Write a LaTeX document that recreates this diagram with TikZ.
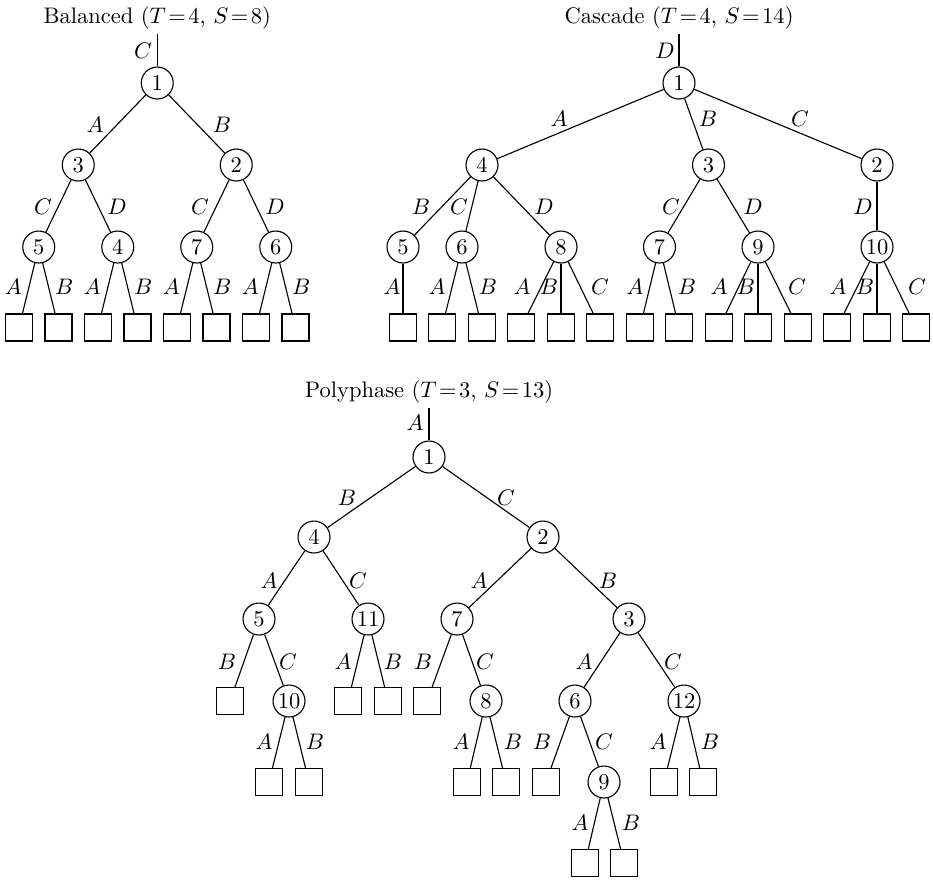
\documentclass[tikz,border=0pt]{standalone}
\begin{document}
\begin{tikzpicture}[x=0.4444pt,y=-0.4444pt,
  cnode/.style={circle,draw,line width=0.5pt,minimum size=14.2pt,inner sep=0pt},
  leaf/.style={rectangle,draw,line width=0.5pt,minimum size=12pt,inner sep=0pt},
  lbl/.style={inner sep=0pt},
  ttl/.style={inner sep=0pt},
  edge/.style={line width=0.5pt}]
\useasboundingbox (0,0) rectangle (933,879);

% ---------------- Balanced ----------------
\node[ttl] (bt) at (157.25,18) {Balanced ($T\!=\!4$, $S\!=\!8$)};
\coordinate (btop) at (157.25,34);
\node[cnode] (b1) at (157.25,83) {1};
\node[cnode] (b3) at (78.25,165) {3};
\node[cnode] (b2) at (236.25,165) {2};
\node[cnode] (b5) at (38.75,247) {5};
\node[cnode] (b4) at (117.75,247) {4};
\node[cnode] (b7) at (196.75,247) {7};
\node[cnode] (b6) at (275.75,247) {6};
\node[leaf] (bl1) at (19,327.5) {};
\node[leaf] (bl2) at (58.5,327.5) {};
\node[leaf] (bl3) at (98,327.5) {};
\node[leaf] (bl4) at (137.5,327.5) {};
\node[leaf] (bl5) at (177,327.5) {};
\node[leaf] (bl6) at (216.5,327.5) {};
\node[leaf] (bl7) at (256,327.5) {};
\node[leaf] (bl8) at (295.5,327.5) {};
\draw[edge] (btop) -- (b1);
\draw[edge] (b1) -- (b3); \draw[edge] (b1) -- (b2);
\draw[edge] (b3) -- (b5); \draw[edge] (b3) -- (b4);
\draw[edge] (b2) -- (b7); \draw[edge] (b2) -- (b6);
\draw[edge] (b5) -- (bl1); \draw[edge] (b5) -- (bl2);
\draw[edge] (b4) -- (bl3); \draw[edge] (b4) -- (bl4);
\draw[edge] (b7) -- (bl5); \draw[edge] (b7) -- (bl6);
\draw[edge] (b6) -- (bl7); \draw[edge] (b6) -- (bl8);
\node[lbl] (bla) at (143,51) {$C$};
\node[lbl] (blb) at (95,125) {$A$};
\node[lbl] (blc) at (222,125) {$B$};
\node[lbl] (bld) at (43,207) {$C$};
\node[lbl] (ble) at (117,207) {$D$};
\node[lbl] (blf) at (200,207) {$C$};
\node[lbl] (blg) at (275,207) {$D$};
\node[lbl] (blh) at (13.25,287) {$A$};
\node[lbl] (bli) at (64.25,287) {$B$};
\node[lbl] (blj) at (92.25,287) {$A$};
\node[lbl] (blk) at (143.25,287) {$B$};
\node[lbl] (bll) at (171.25,287) {$A$};
\node[lbl] (blm) at (222.25,287) {$B$};
\node[lbl] (bln) at (250.25,287) {$A$};
\node[lbl] (blo) at (301.25,287) {$B$};

% ---------------- Cascade ----------------
\node[ttl] (ct) at (679,18) {Cascade ($T\!=\!4$, $S\!=\!14$)};
\coordinate (ctop) at (679,34);
\node[cnode] (c1) at (679,83) {1};
\node[cnode] (c4) at (482,165) {4};
\node[cnode] (c3) at (708.5,165) {3};
\node[cnode] (c2) at (877,165) {2};
\node[cnode] (c5) at (403,247) {5};
\node[cnode] (c6) at (462,247) {6};
\node[cnode] (c8) at (561,247) {8};
\node[cnode] (c7) at (659.5,247) {7};
\node[cnode] (c9) at (758,247) {9};
\node[cnode] (c10) at (877,247) {10};
\node[leaf] (cl1) at (403,327.5) {};
\node[leaf] (cl2) at (442,327.5) {};
\node[leaf] (cl3) at (482,327.5) {};
\node[leaf] (cl4) at (521,327.5) {};
\node[leaf] (cl5) at (561,327.5) {};
\node[leaf] (cl6) at (600,327.5) {};
\node[leaf] (cl7) at (640,327.5) {};
\node[leaf] (cl8) at (679,327.5) {};
\node[leaf] (cl9) at (719,327.5) {};
\node[leaf] (cl10) at (758,327.5) {};
\node[leaf] (cl11) at (798,327.5) {};
\node[leaf] (cl12) at (837,327.5) {};
\node[leaf] (cl13) at (877,327.5) {};
\node[leaf] (cl14) at (916,327.5) {};
\draw[edge] (ctop) -- (c1);
\draw[edge] (c1) -- (c4); \draw[edge] (c1) -- (c3); \draw[edge] (c1) -- (c2);
\draw[edge] (c4) -- (c5); \draw[edge] (c4) -- (c6); \draw[edge] (c4) -- (c8);
\draw[edge] (c3) -- (c7); \draw[edge] (c3) -- (c9);
\draw[edge] (c2) -- (c10);
\draw[edge] (c5) -- (cl1);
\draw[edge] (c6) -- (cl2); \draw[edge] (c6) -- (cl3);
\draw[edge] (c8) -- (cl4); \draw[edge] (c8) -- (cl5); \draw[edge] (c8) -- (cl6);
\draw[edge] (c7) -- (cl7); \draw[edge] (c7) -- (cl8);
\draw[edge] (c9) -- (cl9); \draw[edge] (c9) -- (cl10); \draw[edge] (c9) -- (cl11);
\draw[edge] (c10) -- (cl12); \draw[edge] (c10) -- (cl13); \draw[edge] (c10) -- (cl14);
\node[lbl] (cla) at (665,51) {$D$};
\node[lbl] (clb) at (559,119) {$A$};
\node[lbl] (clc) at (708,119) {$B$};
\node[lbl] (cld) at (800,119) {$C$};
\node[lbl] (cle) at (421,207) {$B$};
\node[lbl] (clf) at (459,207) {$C$};
\node[lbl] (clg) at (544,207) {$D$};
\node[lbl] (clh) at (671,207) {$C$};
\node[lbl] (cli) at (753,207) {$D$};
\node[lbl] (clj) at (863,207) {$D$};
\node[lbl] (clk) at (392,287) {$A$};
\node[lbl] (cll) at (437,287) {$A$};
\node[lbl] (clm) at (488,287) {$B$};
\node[lbl] (cln) at (522,287) {$A$};
\node[lbl] (clo) at (549,287) {$B$};
\node[lbl] (clp) at (600,287) {$C$};
\node[lbl] (clq) at (635,287) {$A$};
\node[lbl] (clr) at (687,287) {$B$};
\node[lbl] (cls) at (719,287) {$A$};
\node[lbl] (clt) at (746,287) {$B$};
\node[lbl] (clu) at (797,287) {$C$};
\node[lbl] (clv) at (838,287) {$A$};
\node[lbl] (clw) at (865,287) {$B$};
\node[lbl] (clx) at (917,287) {$C$};

% ---------------- Polyphase ----------------
\node[ttl] (pt) at (429,392) {Polyphase ($T\!=\!3$, $S\!=\!13$)};
\coordinate (ptop) at (429,408);
\node[cnode] (p1) at (429,457) {1};
\node[cnode] (p4) at (314,537) {4};
\node[cnode] (p2) at (543,537) {2};
\node[cnode] (p5) at (259,619) {5};
\node[cnode] (p11) at (368,619) {11};
\node[cnode] (p7) at (457,619) {7};
\node[cnode] (p3) at (629,619) {3};
\node[leaf] (pl1) at (230,701) {};
\node[cnode] (p10) at (289,701) {10};
\node[leaf] (pl2) at (348,701) {};
\node[leaf] (pl3) at (388,701) {};
\node[leaf] (pl4) at (427,701) {};
\node[cnode] (p8) at (486,701) {8};
\node[cnode] (p6) at (575,701) {6};
\node[cnode] (p12) at (684,701) {12};
\node[leaf] (pl5) at (269,782) {};
\node[leaf] (pl6) at (309,782) {};
\node[leaf] (pl7) at (467,782) {};
\node[leaf] (pl8) at (506,782) {};
\node[leaf] (pl9) at (546,782) {};
\node[cnode] (p9) at (604,782) {9};
\node[leaf] (pl10) at (664,782) {};
\node[leaf] (pl11) at (703,782) {};
\node[leaf] (pl12) at (585,863) {};
\node[leaf] (pl13) at (624,863) {};
\draw[edge] (ptop) -- (p1);
\draw[edge] (p1) -- (p4); \draw[edge] (p1) -- (p2);
\draw[edge] (p4) -- (p5); \draw[edge] (p4) -- (p11);
\draw[edge] (p2) -- (p7); \draw[edge] (p2) -- (p3);
\draw[edge] (p5) -- (pl1); \draw[edge] (p5) -- (p10);
\draw[edge] (p11) -- (pl2); \draw[edge] (p11) -- (pl3);
\draw[edge] (p7) -- (pl4); \draw[edge] (p7) -- (p8);
\draw[edge] (p3) -- (p6); \draw[edge] (p3) -- (p12);
\draw[edge] (p10) -- (pl5); \draw[edge] (p10) -- (pl6);
\draw[edge] (p8) -- (pl7); \draw[edge] (p8) -- (pl8);
\draw[edge] (p6) -- (pl9); \draw[edge] (p6) -- (p9);
\draw[edge] (p12) -- (pl10); \draw[edge] (p12) -- (pl11);
\draw[edge] (p9) -- (pl12); \draw[edge] (p9) -- (pl13);
\node[lbl] (pla) at (415,423) {$A$};
\node[lbl] (plb) at (347,498) {$B$};
\node[lbl] (plc) at (506,498) {$C$};
\node[lbl] (pld) at (269,581) {$A$};
\node[lbl] (ple) at (358,581) {$C$};
\node[lbl] (plf) at (479,581) {$A$};
\node[lbl] (plg) at (608,581) {$B$};
\node[lbl] (plh) at (227,662) {$B$};
\node[lbl] (pli) at (288,662) {$C$};
\node[lbl] (plj) at (343,662) {$A$};
\node[lbl] (plk) at (393,662) {$B$};
\node[lbl] (pll) at (423,662) {$B$};
\node[lbl] (plm) at (485,662) {$C$};
\node[lbl] (pln) at (584,662) {$A$};
\node[lbl] (plo) at (673,662) {$C$};
\node[lbl] (plp) at (264,742) {$A$};
\node[lbl] (plq) at (315,742) {$B$};
\node[lbl] (plr) at (461,742) {$A$};
\node[lbl] (pls) at (513,742) {$B$};
\node[lbl] (plt) at (542,742) {$B$};
\node[lbl] (plu) at (604,742) {$C$};
\node[lbl] (plv) at (658,742) {$A$};
\node[lbl] (plw) at (710,742) {$B$};
\node[lbl] (plx) at (580,823) {$A$};
\node[lbl] (ply) at (631,823) {$B$};
\end{tikzpicture}
\end{document}
